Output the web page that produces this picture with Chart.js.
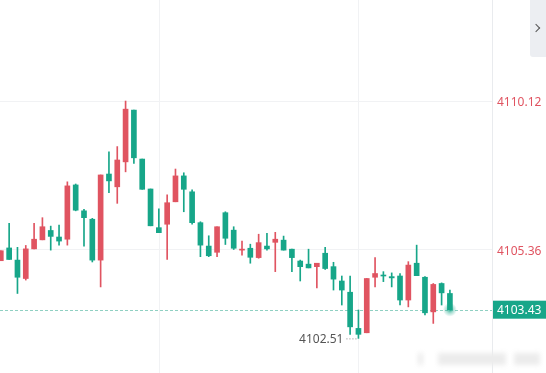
<!DOCTYPE html>
<html>
<head>
<meta charset="utf-8">
<script src="https://cdn.jsdelivr.net/npm/chart.js@4"></script>
<style>
  html, body { margin: 0; padding: 0; background: #fff; overflow: hidden; }
  #wrap { position: relative; width: 546px; height: 373px; }
  #toggle {
    position: absolute; right: 0; top: 0; width: 16px; height: 57px;
    background: #eceef2; border-bottom-left-radius: 3px;
  }
  #toggle::after {
    content: ''; position: absolute; left: 3px; top: 25px; width: 5px; height: 5px;
    border-top: 1.6px solid #555; border-right: 1.6px solid #555; transform: rotate(45deg);
  }
  .blur { position: absolute; background: #ececec; filter: blur(2.5px); }
</style>
</head>
<body>
<div id="wrap">
  <canvas id="kline" width="546" height="373"></canvas>
  <div id="toggle"></div>
  <div class="blur" style="left:418px;top:353px;width:5px;height:12px"></div>
  <div class="blur" style="left:438px;top:353px;width:68px;height:12px"></div>
  <div class="blur" style="left:514px;top:353px;width:26px;height:12px"></div>
</div>
<script>
// 1分钟K线 (开, 高, 低, 收)
const opens  = [4105.00, 4105.41, 4105.02, 4104.43, 4105.38, 4105.67, 4105.97, 4105.76, 4105.69, 4107.43,
                4106.60, 4106.33, 4105.02, 4107.78, 4107.37, 4108.17, 4109.83, 4108.26, 4107.30, 4106.06,
                4106.17, 4106.89, 4107.72, 4107.21, 4106.22, 4105.47, 4105.27, 4106.54, 4105.98, 4105.34,
                4105.40, 4105.10, 4105.47, 4105.59, 4105.66, 4105.37, 4104.99, 4104.89, 4104.81, 4105.24,
                4104.81, 4104.35, 4103.99, 4102.83, 4102.69, 4104.47, 4104.54, 4104.49, 4104.51, 4103.74,
                4104.92, 4104.47, 4103.36, 4104.27, 4103.95];
const highs  = [4105.32, 4106.20, 4105.43, 4105.49, 4106.20, 4106.38, 4106.11, 4106.14, 4107.53, 4107.46,
                4106.65, 4106.36, 4107.75, 4108.49, 4108.66, 4110.12, 4109.83, 4108.26, 4107.30, 4106.66,
                4107.11, 4107.94, 4107.82, 4107.27, 4106.25, 4105.80, 4106.09, 4106.57, 4106.09, 4105.63,
                4105.53, 4105.85, 4105.88, 4105.91, 4105.79, 4105.37, 4105.02, 4105.37, 4104.92, 4105.43,
                4104.95, 4104.51, 4104.51, 4103.42, 4104.43, 4105.10, 4104.65, 4104.61, 4104.59, 4104.97,
                4105.50, 4104.49, 4104.27, 4104.29, 4104.06];
const lows   = [4105.00, 4105.04, 4103.95, 4104.38, 4105.38, 4105.67, 4105.34, 4105.50, 4105.50, 4106.60,
                4105.47, 4104.96, 4104.16, 4107.18, 4106.84, 4107.85, 4108.12, 4107.29, 4106.12, 4105.90,
                4105.04, 4106.89, 4106.57, 4106.17, 4105.13, 4105.13, 4105.13, 4105.52, 4105.36, 4105.18,
                4104.92, 4105.08, 4105.34, 4104.65, 4105.34, 4104.65, 4104.35, 4104.77, 4104.13, 4104.72,
                4104.06, 4103.58, 4102.64, 4102.51, 4102.69, 4104.16, 4104.33, 4104.16, 4103.58, 4103.52,
                4104.52, 4103.26, 4102.99, 4103.58, 4103.43];
const closes = [4105.32, 4105.04, 4104.47, 4105.38, 4105.69, 4106.09, 4105.78, 4105.63, 4107.40, 4106.62,
                4106.38, 4105.02, 4107.75, 4107.56, 4108.23, 4109.86, 4108.30, 4107.29, 4106.12, 4105.90,
                4106.86, 4107.72, 4107.29, 4106.22, 4105.50, 4105.16, 4106.09, 4105.72, 4105.40, 4105.37,
                4105.11, 4105.58, 4105.38, 4105.69, 4105.34, 4105.10, 4104.81, 4104.77, 4104.92, 4104.75,
                4104.41, 4104.06, 4102.88, 4102.64, 4104.43, 4104.59, 4104.51, 4104.45, 4103.74, 4104.86,
                4104.52, 4103.33, 4104.24, 4103.97, 4103.43];

const axisPrices = [4110.12, 4105.36];   // 右侧刻度
const lastPrice = 4103.43;
const lowPrice = 4102.51;
const lowIndex = 43;
const timeMarks = [19, 43];              // 竖向分隔线

const RED = '#e05461';
const GREEN = '#17a689';

const candleColors = opens.map((o, i) => closes[i] >= o ? RED : GREEN);
const wickData = highs.map((h, i) => ({ x: i, y: [lows[i], h] }));
const bodyData = opens.map((o, i) => ({ x: i, y: [o, closes[i]] }));

const extras = {
  id: 'extras',
  beforeDatasetsDraw(chart) {
    const { ctx, chartArea, scales } = chart;
    ctx.save();
    ctx.strokeStyle = '#f1f2f4';
    ctx.lineWidth = 1;
    timeMarks.forEach(i => {
      const x = Math.round(scales.x.getPixelForValue(i)) + 0.5;
      ctx.beginPath();
      ctx.moveTo(x, chartArea.top);
      ctx.lineTo(x, chartArea.bottom);
      ctx.stroke();
    });
    // 最新价虚线
    const yl = Math.round(scales.y.getPixelForValue(lastPrice)) + 0.5;
    ctx.strokeStyle = '#8fd0c2';
    ctx.setLineDash([3, 2]);
    ctx.beginPath();
    ctx.moveTo(chartArea.left, yl);
    ctx.lineTo(chartArea.right, yl);
    ctx.stroke();
    ctx.restore();
  },
  afterDatasetsDraw(chart) {
    const { ctx, chartArea, scales } = chart;
    ctx.save();
    // 末根K线光点
    const n = closes.length - 1;
    const gx = scales.x.getPixelForValue(n);
    const gy = scales.y.getPixelForValue(closes[n]);
    const g = ctx.createRadialGradient(gx, gy, 0, gx, gy, 7);
    g.addColorStop(0, 'rgba(23,166,137,0.9)');
    g.addColorStop(0.5, 'rgba(23,166,137,0.35)');
    g.addColorStop(1, 'rgba(23,166,137,0)');
    ctx.fillStyle = g;
    ctx.beginPath();
    ctx.arc(gx, gy, 7, 0, Math.PI * 2);
    ctx.fill();

    // 最低价标注
    const lx = scales.x.getPixelForValue(lowIndex);
    const ly = scales.y.getPixelForValue(lowPrice);
    ctx.strokeStyle = '#888';
    ctx.setLineDash([1, 2]);
    ctx.beginPath();
    ctx.moveTo(lx - 2, ly + 0.5);
    ctx.lineTo(lx - 12, ly + 0.5);
    ctx.stroke();
    ctx.setLineDash([]);
    ctx.fillStyle = '#555';
    ctx.font = '12px "Noto Sans"';
    ctx.textAlign = 'right';
    ctx.textBaseline = 'middle';
    ctx.fillText(lowPrice.toFixed(2), lx - 15, ly + 1);

    // 最新价标签
    const py = scales.y.getPixelForValue(lastPrice);
    ctx.fillStyle = GREEN;
    ctx.fillRect(chartArea.right + 1, py - 9, chart.width - chartArea.right - 1, 18);
    ctx.fillStyle = '#fff';
    ctx.textAlign = 'left';
    ctx.fillText(lastPrice.toFixed(2), chartArea.right + 5, py + 0.5);
    ctx.restore();
  }
};

new Chart(document.getElementById('kline'), {
  type: 'bar',
  data: {
    datasets: [
      {
        data: wickData,
        backgroundColor: candleColors,
        barThickness: 1,
        grouped: false,
        borderWidth: 0
      },
      {
        data: bodyData,
        backgroundColor: candleColors,
        barThickness: 5,
        minBarLength: 1,
        grouped: false,
        borderWidth: 0
      }
    ]
  },
  options: {
    responsive: false,
    animation: false,
    devicePixelRatio: 1,
    layout: { padding: 0 },
    plugins: { legend: { display: false }, tooltip: { enabled: false } },
    scales: {
      x: {
        type: 'linear',
        display: false,
        offset: false,
        min: -0.1,
        max: 59.06,
        grid: { offset: false }
      },
      y: {
        position: 'right',
        min: 4101.40,
        max: 4113.36,
        afterBuildTicks: (scale) => { scale.ticks = axisPrices.map(v => ({ value: v })); },
        afterFit: (scale) => {
          scale.width = 54;
          scale.paddingTop = 0;
          scale.paddingBottom = 0;
        },
        grid: { color: '#f1f2f4', drawTicks: false },
        border: { color: '#e9ebee' },
        ticks: {
          color: RED,
          padding: 5,
          labelOffset: 2,
          font: { family: 'Noto Sans', size: 12 },
          callback: (v) => Number(v).toFixed(2)
        }
      }
    }
  },
  plugins: [extras]
});
</script>
</body>
</html>
